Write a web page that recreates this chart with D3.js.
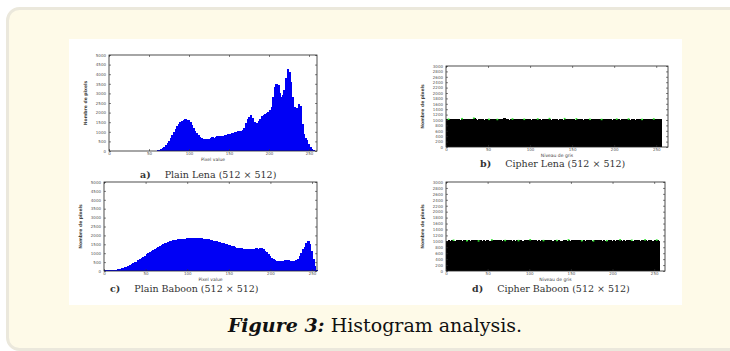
<!DOCTYPE html>
<html>
<head>
<meta charset="utf-8">
<script src="https://cdn.jsdelivr.net/npm/d3@7"></script>
<style>
body { margin: 0; background: #fff; overflow: hidden; }
svg { display: block; }
</style>
</head>
<body>
<svg id="fig" width="730" height="351"></svg>
<script>
// Histogram counts, one value per 2 grey levels (128 bins)
const lenaPlain = [
  0, 0, 0, 0, 0, 0, 0, 0, 0, 0, 0, 0, 0, 0, 0, 0,
  0, 0, 0, 0, 0, 0, 0, 0, 5, 8, 10, 12, 15, 20, 30, 50,
  90, 150, 220, 300, 400, 520, 680, 850, 1000, 1150, 1300, 1420, 1520, 1580, 1620, 1650,
  1640, 1600, 1500, 1380, 1200, 1050, 920, 820, 740, 680, 640, 620, 600, 610, 640, 690,
  720, 700, 740, 760, 770, 760, 780, 800, 820, 850, 870, 900, 920, 950, 980, 1000,
  1020, 1000, 1050, 1100, 1200, 1450, 1650, 1750, 1850, 1700, 1500, 1450, 1480, 1550, 1650, 1800,
  1900, 1950, 2000, 2050, 2150, 2300, 2800, 3350, 3500, 3450, 3000, 2800, 2900, 3200, 3800, 4250,
  4100, 3600, 2800, 2300, 2200, 2250, 2450, 2350, 1400, 900, 700, 550, 350, 220, 100, 30
];
const baboonPlain = [
  30, 40, 30, 40, 50, 60, 60, 80, 100, 120, 150, 180, 210, 250, 290, 330,
  380, 430, 480, 530, 590, 650, 720, 790, 860, 930, 1000, 1070, 1130, 1190, 1250, 1310,
  1370, 1420, 1470, 1520, 1560, 1600, 1640, 1670, 1700, 1720, 1740, 1760, 1780, 1790, 1800, 1810,
  1820, 1830, 1840, 1830, 1840, 1850, 1860, 1850, 1870, 1850, 1840, 1820, 1800, 1790, 1770, 1750,
  1730, 1710, 1690, 1670, 1650, 1620, 1600, 1570, 1540, 1500, 1470, 1440, 1410, 1380, 1350, 1320,
  1300, 1280, 1270, 1260, 1250, 1250, 1240, 1250, 1250, 1260, 1250, 1270, 1260, 1280, 1270, 1230,
  1150, 1050, 940, 830, 730, 650, 600, 570, 560, 550, 560, 580, 600, 620, 610, 580,
  560, 550, 570, 620, 700, 820, 1000, 1250, 1350, 1550, 1680, 1500, 1150, 700, 300, 60
];
const lenaCipher = [
  1032, 1018, 1045, 1027, 1009, 1038, 1051, 1022, 1016, 1040, 1029, 1003, 1047, 1035, 1019, 1026,
  1058, 1031, 1012, 1041, 1024, 1036, 1007, 1049, 1028, 1015, 1039, 1053, 1021, 1033, 1010, 1044,
  1030, 1017, 1062, 1025, 1038, 1006, 1046, 1029, 1020, 1037, 1013, 1050, 1027, 1034, 1016, 1042,
  1023, 1031, 1008, 1045, 1036, 1019, 1028, 1048, 1011, 1033, 1039, 1022, 1026, 1043, 1014, 1037,
  1029, 1052, 1018, 1035, 1024, 1009, 1041, 1030, 1046, 1021, 1027, 1038, 1015, 1033, 1049, 1020,
  1036, 1012, 1044, 1028, 1031, 1017, 1040, 1025, 1055, 1019, 1034, 1026, 1011, 1043, 1030, 1038,
  1022, 1047, 1016, 1029, 1035, 1023, 1041, 1010, 1032, 1048, 1021, 1037, 1027, 1014, 1045, 1033,
  1018, 1039, 1026, 1051, 1012, 1030, 1042, 1024, 1036, 1019, 1046, 1028, 1015, 1034, 1040, 1022
];
const baboonCipher = [
  1021, 1036, 1014, 1042, 1027, 1008, 1039, 1025, 1048, 1017, 1033, 1029, 1011, 1044, 1023, 1037,
  1019, 1050, 1031, 1006, 1040, 1026, 1035, 1013, 1046, 1028, 1020, 1038, 1009, 1043, 1032, 1016,
  1041, 1024, 1055, 1018, 1030, 1012, 1045, 1027, 1036, 1021, 1049, 1015, 1034, 1026, 1007, 1040,
  1029, 1018, 1044, 1033, 1022, 1051, 1010, 1037, 1025, 1042, 1016, 1031, 1047, 1020, 1035, 1013,
  1028, 1043, 1019, 1038, 1026, 1009, 1046, 1032, 1017, 1040, 1023, 1052, 1014, 1036, 1029, 1021,
  1044, 1011, 1034, 1027, 1048, 1018, 1039, 1025, 1006, 1042, 1030, 1015, 1045, 1022, 1037, 1028,
  1012, 1041, 1033, 1019, 1050, 1026, 1035, 1016, 1043, 1024, 1031, 1009, 1047, 1020, 1038, 1027,
  1014, 1044, 1029, 1036, 1018, 1053, 1023, 1040, 1011, 1032, 1046, 1025, 1019, 1039, 1034, 1016
];
// bins where the green stem markers show above the black
const lenaGreen = [1, 9, 16, 25, 30, 39, 46, 54, 61, 70, 77, 85, 92, 101, 108, 116, 123];
const baboonGreen = [4, 12, 19, 27, 35, 43, 50, 58, 66, 73, 81, 88, 96, 104, 111, 119, 126];

const plainTicks = [0, 500, 1000, 1500, 2000, 2500, 3000, 3500, 4000, 4500, 5000];
const cipherTicks = [0, 200, 400, 600, 800, 1000, 1200, 1400, 1600, 1800, 2000, 2200, 2400, 2600, 2800, 3000];
const xTicks = [0, 50, 100, 150, 200, 250];

const panels = [
  { values: lenaPlain, color: "#0000f5", yTicks: plainTicks, xMax: 260, box: [109, 317, 55, 151],
    xTitle: "Pixel value", tag: "a)", caption: "Plain Lena (512 × 512)", cap: [140, 178] },
  { values: lenaCipher, color: "#000", green: lenaGreen, yTicks: cipherTicks, xMax: 264, box: [446, 668, 66, 147],
    xTitle: "Niveau de gris", tag: "b)", caption: "Cipher Lena (512 × 512)", cap: [480, 167] },
  { values: baboonPlain, color: "#0000f5", yTicks: plainTicks, xMax: 256, box: [104, 317, 182, 271],
    xTitle: "Pixel value", tag: "c)", caption: "Plain Baboon (512 × 512)", cap: [110, 292] },
  { values: baboonCipher, color: "#000", green: baboonGreen, yTicks: cipherTicks, xMax: 263, box: [446, 665, 182, 271],
    xTitle: "Niveau de gris", tag: "d)", caption: "Cipher Baboon (512 × 512)", cap: [472, 292] }
];

const svg = d3.select("#fig");

// page background
svg.append("rect")
  .attr("x", 7.5).attr("y", 8.5)
  .attr("width", 800).attr("height", 341)
  .attr("rx", 12)
  .attr("fill", "#fefae8")
  .attr("stroke", "#ebe8dc")
  .attr("stroke-width", 3);

svg.append("rect")
  .attr("x", 69).attr("y", 39)
  .attr("width", 613).attr("height", 266)
  .attr("fill", "#fff");

panels.forEach(p => {
  const [left, right, top, bottom] = p.box;
  const yMax = p.yTicks[p.yTicks.length - 1];
  const x = d3.scaleLinear().domain([0, p.xMax]).range([left, right]);
  const y = d3.scaleLinear().domain([0, yMax]).range([bottom, top]);
  const g = svg.append("g");

  // Bars
  g.append("g")
    .attr("shape-rendering", "crispEdges")
    .selectAll("rect")
    .data(p.values)
    .enter().append("rect")
    .attr("x", (d, i) => x(i * 2))
    .attr("width", x(2) - x(0) + 1)
    .attr("y", d => y(d))
    .attr("height", d => y(0) - y(d))
    .attr("fill", p.color);

  if (p.green) {
    g.append("g")
      .selectAll("rect")
      .data(p.green)
      .enter().append("rect")
      .attr("x", i => x(i * 2))
      .attr("width", 1.8)
      .attr("y", i => y(p.values[i]) - 1)
      .attr("height", 1.5)
      .attr("fill", "#2ee82e");
  }

  // Axes, ticks pointing inside
  const tickFont = sel => sel.selectAll("text")
    .attr("font-family", "DejaVu Sans")
    .attr("font-size", 4)
    .attr("fill", "#555");

  g.append("g")
    .attr("transform", `translate(${left},0)`)
    .call(d3.axisLeft(y).tickValues(p.yTicks).tickSize(-2).tickPadding(3).tickFormat(d3.format("d")))
    .call(tickFont);
  g.append("g")
    .attr("transform", `translate(${right},0)`)
    .call(d3.axisRight(y).tickValues(p.yTicks).tickSize(-2).tickFormat(""));
  g.append("g")
    .attr("transform", `translate(0,${bottom})`)
    .call(d3.axisBottom(x).tickValues(xTicks).tickSize(-2).tickPadding(1.5).tickFormat(d3.format("d")))
    .call(tickFont);
  g.append("g")
    .attr("transform", `translate(0,${top})`)
    .call(d3.axisTop(x).tickValues(xTicks).tickSize(-2).tickFormat(""));

  g.selectAll(".domain").remove();
  g.selectAll(".tick line").attr("stroke", "#333").attr("stroke-width", 0.6);

  g.append("rect")
    .attr("x", left).attr("y", top)
    .attr("width", right - left).attr("height", bottom - top)
    .attr("fill", "none")
    .attr("stroke", "#222")
    .attr("stroke-width", 0.8);

  // Axis titles
  g.append("text")
    .attr("x", (left + right) / 2)
    .attr("y", bottom + 9.5)
    .attr("text-anchor", "middle")
    .attr("font-family", "DejaVu Sans")
    .attr("font-size", 4.5)
    .attr("fill", "#444")
    .text(p.xTitle);

  g.append("text")
    .attr("transform", `translate(${left - 22},${(top + bottom) / 2}) rotate(-90)`)
    .attr("text-anchor", "middle")
    .attr("font-family", "DejaVu Sans")
    .attr("font-size", 4.5)
    .attr("font-weight", "bold")
    .attr("fill", "#444")
    .text("Nombre de pixels");

  // Sub caption
  const cap = g.append("text")
    .attr("x", p.cap[0])
    .attr("y", p.cap[1])
    .attr("font-family", "DejaVu Serif")
    .attr("font-size", 9.5)
    .attr("fill", "#333");
  cap.append("tspan").attr("font-weight", "bold").text(p.tag);
  cap.append("tspan").attr("dx", 14).text(p.caption);
});

// Figure caption
const fc = svg.append("text")
  .attr("x", 375)
  .attr("y", 332)
  .attr("text-anchor", "middle")
  .attr("font-family", "DejaVu Serif")
  .attr("font-size", 19)
  .attr("fill", "#111");
fc.append("tspan").attr("font-weight", "bold").attr("font-style", "italic").text("Figure 3:");
fc.append("tspan").text(" Histogram analysis.");
</script>
</body>
</html>
